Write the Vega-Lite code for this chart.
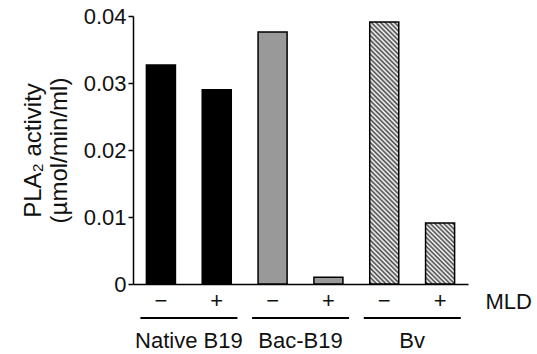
{
  "$schema": "https://vega.github.io/schema/vega-lite/v6.json",
  "width": 335,
  "height": 268,
  "autosize": "none",
  "padding": {"left": 133, "top": 16, "right": 69, "bottom": 70},
  "background": "white",
  "config": {
    "view": {"stroke": null},
    "font": "Liberation Sans",
    "axis": {"domainColor": "#000", "tickColor": "#000", "labelColor": "#111", "titleColor": "#111", "domainWidth": 1.5, "tickWidth": 1.5, "grid": false, "labelFont": "Liberation Sans", "titleFont": "Liberation Sans", "titleFontWeight": "normal"}
  },
  "datasets": {
    "bars": [
      {"bar": "Native B19 −", "group": "Native B19", "mld": "−", "activity": 0.0327},
      {"bar": "Native B19 +", "group": "Native B19", "mld": "+", "activity": 0.0290},
      {"bar": "Bac-B19 −", "group": "Bac-B19", "mld": "−", "activity": 0.0376},
      {"bar": "Bac-B19 +", "group": "Bac-B19", "mld": "+", "activity": 0.0010},
      {"bar": "Bv −", "group": "Bv", "mld": "−", "activity": 0.0391},
      {"bar": "Bv +", "group": "Bv", "mld": "+", "activity": 0.0091}
    ]
  },
  "layer": [
    {
      "data": {"name": "bars"},
      "transform": [{"filter": "datum.group != 'Bv'"}],
      "mark": {"type": "bar", "width": {"band": 0.52}, "stroke": "#000", "strokeWidth": 1.5},
      "encoding": {
        "x": {
          "field": "bar", "type": "nominal", "sort": null, "title": "MLD",
          "scale": {"domain": ["Native B19 −", "Native B19 +", "Bac-B19 −", "Bac-B19 +", "Bv −", "Bv +"], "paddingInner": 0, "paddingOuter": 0},
          "axis": {
            "ticks": false, "labelPadding": 16, "labelBaseline": "middle", "labelAngle": 0,
            "labelFontSize": 22,
            "labelExpr": "substring(datum.label, length(datum.label) - 1)",
            "titleFontSize": 22, "titleX": 352, "titleY": 17, "titleAlign": "left", "titleBaseline": "middle", "titleAngle": 0
          }
        },
        "y": {
          "field": "activity", "type": "quantitative",
          "title": ["PLA₂ activity", "(µmol/min/ml)"],
          "scale": {"domain": [0, 0.04], "nice": false},
          "axis": {
            "values": [0, 0.01, 0.02, 0.03, 0.04], "tickSize": 5, "labelPadding": 2, "labelFontSize": 22,
            "labelExpr": "datum.value == 0 ? '0' : format(datum.value, '.2f')",
            "titleFontSize": 24, "titleX": -100, "titleY": 134, "titleAngle": -90, "titleAlign": "center", "titleBaseline": "middle"
          }
        },
        "fill": {
          "condition": {"test": "datum.group == 'Native B19'", "value": "#000000"},
          "value": "#999999"
        }
      }
    },
    {
      "data": {"name": "bars"},
      "transform": [{"filter": "datum.bar == 'Bv −'"}],
      "mark": {"type": "bar", "width": {"band": 0.52}, "stroke": "#000", "strokeWidth": 1.5,
        "fill": {"gradient": "linear", "x1": 0, "y1": 1, "x2": 0.1215, "y2": -0.0973, "stops": [
              {"offset": 0, "color": "#fff"}, {"offset": 0.008, "color": "#444"}, {"offset": 0.016, "color": "#fff"}, {"offset": 0.024, "color": "#444"}, {"offset": 0.032, "color": "#fff"}, {"offset": 0.04, "color": "#444"}, {"offset": 0.048, "color": "#fff"}, {"offset": 0.056, "color": "#444"}, {"offset": 0.064, "color": "#fff"}, {"offset": 0.072, "color": "#444"},
              {"offset": 0.08, "color": "#fff"}, {"offset": 0.088, "color": "#444"}, {"offset": 0.096, "color": "#fff"}, {"offset": 0.104, "color": "#444"}, {"offset": 0.112, "color": "#fff"}, {"offset": 0.12, "color": "#444"}, {"offset": 0.128, "color": "#fff"}, {"offset": 0.136, "color": "#444"}, {"offset": 0.144, "color": "#fff"}, {"offset": 0.152, "color": "#444"},
              {"offset": 0.16, "color": "#fff"}, {"offset": 0.168, "color": "#444"}, {"offset": 0.176, "color": "#fff"}, {"offset": 0.184, "color": "#444"}, {"offset": 0.192, "color": "#fff"}, {"offset": 0.2, "color": "#444"}, {"offset": 0.208, "color": "#fff"}, {"offset": 0.216, "color": "#444"}, {"offset": 0.224, "color": "#fff"}, {"offset": 0.232, "color": "#444"},
              {"offset": 0.24, "color": "#fff"}, {"offset": 0.248, "color": "#444"}, {"offset": 0.256, "color": "#fff"}, {"offset": 0.264, "color": "#444"}, {"offset": 0.272, "color": "#fff"}, {"offset": 0.28, "color": "#444"}, {"offset": 0.288, "color": "#fff"}, {"offset": 0.296, "color": "#444"}, {"offset": 0.304, "color": "#fff"}, {"offset": 0.312, "color": "#444"},
              {"offset": 0.32, "color": "#fff"}, {"offset": 0.328, "color": "#444"}, {"offset": 0.336, "color": "#fff"}, {"offset": 0.344, "color": "#444"}, {"offset": 0.352, "color": "#fff"}, {"offset": 0.36, "color": "#444"}, {"offset": 0.368, "color": "#fff"}, {"offset": 0.376, "color": "#444"}, {"offset": 0.384, "color": "#fff"}, {"offset": 0.392, "color": "#444"},
              {"offset": 0.4, "color": "#fff"}, {"offset": 0.408, "color": "#444"}, {"offset": 0.416, "color": "#fff"}, {"offset": 0.424, "color": "#444"}, {"offset": 0.432, "color": "#fff"}, {"offset": 0.44, "color": "#444"}, {"offset": 0.448, "color": "#fff"}, {"offset": 0.456, "color": "#444"}, {"offset": 0.464, "color": "#fff"}, {"offset": 0.472, "color": "#444"},
              {"offset": 0.48, "color": "#fff"}, {"offset": 0.488, "color": "#444"}, {"offset": 0.496, "color": "#fff"}, {"offset": 0.504, "color": "#444"}, {"offset": 0.512, "color": "#fff"}, {"offset": 0.52, "color": "#444"}, {"offset": 0.528, "color": "#fff"}, {"offset": 0.536, "color": "#444"}, {"offset": 0.544, "color": "#fff"}, {"offset": 0.552, "color": "#444"},
              {"offset": 0.56, "color": "#fff"}, {"offset": 0.568, "color": "#444"}, {"offset": 0.576, "color": "#fff"}, {"offset": 0.584, "color": "#444"}, {"offset": 0.592, "color": "#fff"}, {"offset": 0.6, "color": "#444"}, {"offset": 0.608, "color": "#fff"}, {"offset": 0.616, "color": "#444"}, {"offset": 0.624, "color": "#fff"}, {"offset": 0.632, "color": "#444"},
              {"offset": 0.64, "color": "#fff"}, {"offset": 0.648, "color": "#444"}, {"offset": 0.656, "color": "#fff"}, {"offset": 0.664, "color": "#444"}, {"offset": 0.672, "color": "#fff"}, {"offset": 0.68, "color": "#444"}, {"offset": 0.688, "color": "#fff"}, {"offset": 0.696, "color": "#444"}, {"offset": 0.704, "color": "#fff"}, {"offset": 0.712, "color": "#444"},
              {"offset": 0.72, "color": "#fff"}, {"offset": 0.728, "color": "#444"}, {"offset": 0.736, "color": "#fff"}, {"offset": 0.744, "color": "#444"}, {"offset": 0.752, "color": "#fff"}, {"offset": 0.76, "color": "#444"}, {"offset": 0.768, "color": "#fff"}, {"offset": 0.776, "color": "#444"}, {"offset": 0.784, "color": "#fff"}, {"offset": 0.792, "color": "#444"},
              {"offset": 0.8, "color": "#fff"}, {"offset": 0.808, "color": "#444"}, {"offset": 0.816, "color": "#fff"}, {"offset": 0.824, "color": "#444"}, {"offset": 0.832, "color": "#fff"}, {"offset": 0.84, "color": "#444"}, {"offset": 0.848, "color": "#fff"}, {"offset": 0.856, "color": "#444"}, {"offset": 0.864, "color": "#fff"}, {"offset": 0.872, "color": "#444"},
              {"offset": 0.88, "color": "#fff"}, {"offset": 0.888, "color": "#444"}, {"offset": 0.896, "color": "#fff"}, {"offset": 0.904, "color": "#444"}, {"offset": 0.912, "color": "#fff"}, {"offset": 0.92, "color": "#444"}, {"offset": 0.928, "color": "#fff"}, {"offset": 0.936, "color": "#444"}, {"offset": 0.944, "color": "#fff"}, {"offset": 0.952, "color": "#444"},
              {"offset": 0.96, "color": "#fff"}, {"offset": 0.968, "color": "#444"}, {"offset": 0.976, "color": "#fff"}, {"offset": 0.984, "color": "#444"}, {"offset": 0.992, "color": "#fff"}, {"offset": 1, "color": "#444"}
            ]}},
      "encoding": {
        "x": {"field": "bar", "type": "nominal"},
        "y": {"field": "activity", "type": "quantitative"}
      }
    },
    {
      "data": {"name": "bars"},
      "transform": [{"filter": "datum.bar == 'Bv +'"}],
      "mark": {"type": "bar", "width": {"band": 0.52}, "stroke": "#000", "strokeWidth": 1.5,
        "fill": {"gradient": "linear", "x1": 0, "y1": 1, "x2": 0.572, "y2": -0.2035, "stops": [
            {"offset": 0, "color": "#fff"}, {"offset": 0.025, "color": "#444"}, {"offset": 0.05, "color": "#fff"}, {"offset": 0.075, "color": "#444"}, {"offset": 0.1, "color": "#fff"}, {"offset": 0.125, "color": "#444"}, {"offset": 0.15, "color": "#fff"}, {"offset": 0.175, "color": "#444"}, {"offset": 0.2, "color": "#fff"}, {"offset": 0.225, "color": "#444"},
            {"offset": 0.25, "color": "#fff"}, {"offset": 0.275, "color": "#444"}, {"offset": 0.3, "color": "#fff"}, {"offset": 0.325, "color": "#444"}, {"offset": 0.35, "color": "#fff"}, {"offset": 0.375, "color": "#444"}, {"offset": 0.4, "color": "#fff"}, {"offset": 0.425, "color": "#444"}, {"offset": 0.45, "color": "#fff"}, {"offset": 0.475, "color": "#444"},
            {"offset": 0.5, "color": "#fff"}, {"offset": 0.525, "color": "#444"}, {"offset": 0.55, "color": "#fff"}, {"offset": 0.575, "color": "#444"}, {"offset": 0.6, "color": "#fff"}, {"offset": 0.625, "color": "#444"}, {"offset": 0.65, "color": "#fff"}, {"offset": 0.675, "color": "#444"}, {"offset": 0.7, "color": "#fff"}, {"offset": 0.725, "color": "#444"},
            {"offset": 0.75, "color": "#fff"}, {"offset": 0.775, "color": "#444"}, {"offset": 0.8, "color": "#fff"}, {"offset": 0.825, "color": "#444"}, {"offset": 0.85, "color": "#fff"}, {"offset": 0.875, "color": "#444"}, {"offset": 0.9, "color": "#fff"}, {"offset": 0.925, "color": "#444"}, {"offset": 0.95, "color": "#fff"}, {"offset": 0.975, "color": "#444"},
            {"offset": 1, "color": "#fff"}
          ]}},
      "encoding": {
        "x": {"field": "bar", "type": "nominal"},
        "y": {"field": "activity", "type": "quantitative"}
      }
    },
    {
      "data": {"name": "bars"},
      "transform": [{"filter": "datum.mld == '−'"}],
      "mark": {"type": "tick", "orient": "horizontal", "size": 97, "thickness": 2, "color": "#000", "opacity": 1, "yOffset": 34, "xOffset": 28},
      "encoding": {
        "x": {"field": "bar", "type": "nominal"},
        "y": {"datum": 0, "type": "quantitative"}
      }
    },
    {
      "data": {"name": "bars"},
      "transform": [{"filter": "datum.mld == '−'"}],
      "mark": {"type": "text", "fontSize": 22, "align": "center", "baseline": "middle", "color": "#111", "font": "Liberation Sans", "dy": 57},
      "encoding": {
        "x": {"field": "bar", "type": "nominal", "bandPosition": 1},
        "y": {"datum": 0, "type": "quantitative"},
        "text": {"field": "group"}
      }
    }
  ]
}
